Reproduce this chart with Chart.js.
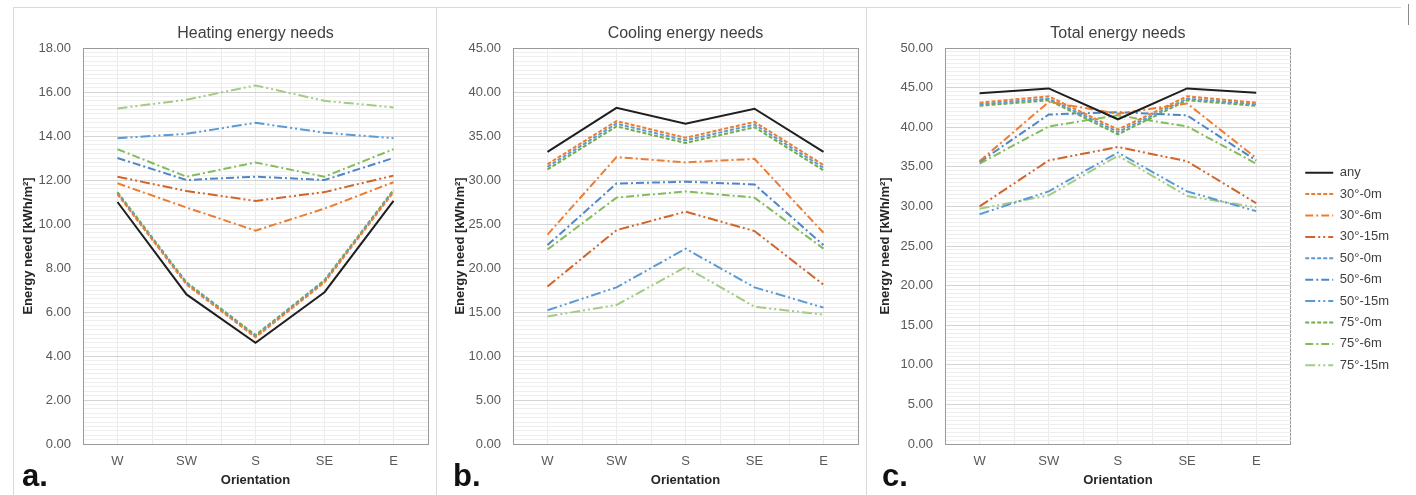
<!DOCTYPE html>
<html><head><meta charset="utf-8">
<script src="https://cdn.jsdelivr.net/npm/chart.js@4.4.1/dist/chart.umd.min.js"></script>
<style>
html,body{margin:0;padding:0;background:#fff;}
#wrap{position:relative;width:1416px;height:495px;overflow:hidden;font-family:"Liberation Sans",Arial,sans-serif;}
.ln{position:absolute;background:#dadada;}
.cv{position:absolute;top:0;height:495px;}
.tag{position:absolute;font-weight:bold;font-size:31px;line-height:31px;color:#111;}
</style></head><body>
<div id="wrap">
  <div class="ln" style="left:13px;top:7px;width:1388px;height:1px"></div>
  <div class="ln" style="left:13px;top:7px;width:1px;height:488px"></div>
  <div class="ln" style="left:436px;top:7px;width:1px;height:488px"></div>
  <div class="ln" style="left:866px;top:7px;width:1px;height:488px"></div>
  <div class="ln" style="left:1408px;top:4px;width:1px;height:21px;background:#8a8a8a"></div>
  <div class="cv" style="left:0px;width:432px"><canvas id="ca" width="432" height="495"></canvas></div>
  <div class="cv" style="left:432px;width:432px"><canvas id="cb" width="432" height="495"></canvas></div>
  <div class="cv" style="left:864px;width:552px"><canvas id="cc" width="552" height="495"></canvas></div>
  <div class="tag" style="left:22px;top:460px">a.</div>
  <div class="tag" style="left:453px;top:460px">b.</div>
  <div class="tag" style="left:882px;top:460px">c.</div>
</div>
<script>
// ---------- DATA ----------
const categories = ['W', 'SW', 'S', 'SE', 'E'];
const seriesNames = ['any', '30°-0m', '30°-6m', '30°-15m', '50°-0m', '50°-6m', '50°-15m', '75°-0m', '75°-6m', '75°-15m'];

// Heating energy needs [kWh/m2]
const heatAny   = [11.0, 6.8, 4.6, 6.9, 11.05];
const heat30_0  = [11.35, 7.25, 4.85, 7.35, 11.45];
const heat30_6  = [11.85, 10.75, 9.7, 10.7, 11.9];
const heat30_15 = [12.15, 11.5, 11.05, 11.45, 12.2];
const heat50_0  = [11.4, 7.3, 4.9, 7.4, 11.5];
const heat50_6  = [13.0, 12.0, 12.15, 12.0, 13.0];
const heat50_15 = [13.9, 14.1, 14.6, 14.15, 13.9];
const heat75_0  = [11.45, 7.35, 4.95, 7.45, 11.55];
const heat75_6  = [13.4, 12.15, 12.8, 12.15, 13.4];
const heat75_15 = [15.25, 15.65, 16.3, 15.6, 15.3];

// Cooling energy needs [kWh/m2]
const coolAny   = [33.2, 38.2, 36.4, 38.1, 33.2];
const cool30_0  = [31.8, 36.7, 34.8, 36.6, 31.7];
const cool30_6  = [23.8, 32.6, 32.0, 32.4, 24.0];
const cool30_15 = [17.9, 24.3, 26.4, 24.2, 18.1];
const cool50_0  = [31.5, 36.4, 34.5, 36.3, 31.4];
const cool50_6  = [22.6, 29.6, 29.8, 29.5, 22.6];
const cool50_15 = [15.2, 17.8, 22.2, 17.8, 15.5];
const cool75_0  = [31.2, 36.1, 34.2, 36.0, 31.1];
const cool75_6  = [22.1, 28.0, 28.7, 28.0, 22.2];
const cool75_15 = [14.5, 15.8, 20.1, 15.6, 14.7];

// Total energy needs [kWh/m2]
const totAny   = [44.3, 44.9, 41.0, 44.9, 44.35];
const tot30_0  = [43.1, 43.9, 39.7, 43.9, 43.1];
const tot30_6  = [35.7, 43.2, 41.7, 43.0, 36.1];
const tot30_15 = [30.0, 35.8, 37.5, 35.7, 30.4];
const tot50_0  = [42.9, 43.6, 39.4, 43.6, 42.9];
const tot50_6  = [35.6, 41.6, 41.9, 41.5, 35.8];
const tot50_15 = [29.0, 31.9, 36.8, 31.9, 29.4];
const tot75_0  = [42.7, 43.4, 39.1, 43.4, 42.7];
const tot75_6  = [35.4, 40.1, 41.5, 40.1, 35.4];
const tot75_15 = [29.7, 31.4, 36.4, 31.3, 29.9];

// ---------- STYLES ----------
const D0 = [4, 2], D6 = [8, 3, 2, 3], D15 = [10, 3, 2, 3, 2, 3];
const seriesStyles = [
  {c: '#1f1f1f', d: []},
  {c: '#ED7D31', d: D0},
  {c: '#ED7D31', d: D6},
  {c: '#D0652A', d: D15},
  {c: '#5B9BD5', d: D0},
  {c: '#4F86C6', d: D6},
  {c: '#5B9BD5', d: D15},
  {c: '#70AD47', d: D0},
  {c: '#84BB5C', d: D6},
  {c: '#A3CC82', d: D15}
];

Chart.defaults.font.family = '"Liberation Sans", Arial, sans-serif';
Chart.defaults.devicePixelRatio = 1;

function near(v, step) { return Math.abs(v / step - Math.round(v / step)) < 1e-6; }

function buildDatasets(seriesValues) {
  return seriesValues.map((vals, i) => ({
    label: seriesNames[i],
    data: vals.map((y, k) => ({x: k, y: y})),
    borderColor: seriesStyles[i].c,
    backgroundColor: seriesStyles[i].c,
    borderDash: seriesStyles[i].d,
    borderWidth: 2,
    pointRadius: 0,
    tension: 0,
    fill: false
  }));
}

function makeChart(id, title, seriesValues, yMax, yMajor, cfg) {
  const scales = {
    x: {
      type: 'linear', min: -0.5, max: 4.5,
      afterFit: s => { s.height = 51; },
      border: {display: true, color: '#9a9a9a', width: 1},
      grid: {
        drawTicks: true, tickLength: 10, tickColor: 'rgba(0,0,0,0)',
        color: c => (Math.abs(c.tick.value - 4.5) < 1e-6) ? '#9a9a9a' : '#ebebeb',
        lineWidth: 1
      },
      ticks: {
        stepSize: 0.5, autoSkip: false, maxRotation: 0, padding: 0,
        font: {size: 13}, color: '#595959',
        callback: v => near(v, 1) ? categories[Math.round(v)] : ''
      },
      title: {display: true, text: 'Orientation', font: {size: 13, weight: 'bold'}, color: '#262626', padding: {top: 0, bottom: 7}}
    },
    y: {
      type: 'linear', min: 0, max: yMax,
      afterFit: s => { s.width = cfg.yw; },
      border: {display: true, color: '#9a9a9a', width: 1},
      grid: {
        drawTicks: false,
        color: c => {
          const v = c.tick.value;
          if (Math.abs(v - yMax) < 1e-6) return '#9a9a9a';
          return near(v, yMajor) ? '#d3d3d3' : '#efefef';
        },
        lineWidth: 1
      },
      ticks: {
        stepSize: yMajor / 10, autoSkip: false, padding: 12,
        font: {size: 13}, color: '#595959',
        callback: v => near(v, yMajor) ? Number(v).toFixed(2) : ''
      },
      title: {display: true, text: 'Energy need [kWh/m²]', font: {size: 13, weight: 'bold'}, color: '#262626', padding: {top: cfg.tp, bottom: 0}}
    }
  };
  const plugins = {
    title: {display: true, text: title, fullSize: false, font: {size: 16, weight: 'normal'}, color: '#404040', padding: {top: 23.7, bottom: 5.1}},
    legend: {display: false},
    tooltip: {enabled: false}
  };
  if (cfg.legend) {
    scales.y2 = {
      type: 'linear', position: 'right', display: true,
      afterFit: s => { s.width = 6; },
      border: {display: false}, grid: {display: false}, ticks: {display: false}
    };
    plugins.legend = {
      display: true, position: 'right', align: 'start', fullSize: false, maxWidth: 104,
      title: {display: true, text: ' ', font: {size: 12}, padding: {top: 95.4, bottom: 0}},
      labels: {
        usePointStyle: true, pointStyle: 'line', pointStyleWidth: 28, boxHeight: 13,
        font: {size: 13}, color: '#404040', padding: 8.4,
        generateLabels: chart => {
          const items = Chart.defaults.plugins.legend.labels.generateLabels(chart);
          items.forEach(it => {
            const ds = chart.data.datasets[it.datasetIndex];
            it.lineDash = ds.borderDash;
            it.lineWidth = ds.borderWidth;
            it.strokeStyle = ds.borderColor;
            it.fillStyle = ds.borderColor;
            it.pointStyle = 'line';
          });
          return items;
        }
      }
    };
  }
  return new Chart(document.getElementById(id), {
    type: 'line',
    data: {datasets: buildDatasets(seriesValues)},
    options: {
      responsive: false, animation: false,
      layout: {autoPadding: false, padding: {left: 0, top: 0, bottom: 0, right: cfg.pr}},
      scales: scales,
      plugins: plugins
    }
  });
}

makeChart('ca', 'Heating energy needs',
  [heatAny, heat30_0, heat30_6, heat30_15, heat50_0, heat50_6, heat50_15, heat75_0, heat75_6, heat75_15],
  18, 2, {yw: 83, tp: 20.2, pr: 4});
makeChart('cb', 'Cooling energy needs',
  [coolAny, cool30_0, cool30_6, cool30_15, cool50_0, cool50_6, cool50_15, cool75_0, cool75_6, cool75_15],
  45, 5, {yw: 81, tp: 20.2, pr: 6});
makeChart('cc', 'Total energy needs',
  [totAny, tot30_0, tot30_6, tot30_15, tot50_0, tot50_6, tot50_15, tot75_0, tot75_6, tot75_15],
  50, 5, {yw: 81, tp: 14, pr: 17, legend: true});
</script>
</body></html>
